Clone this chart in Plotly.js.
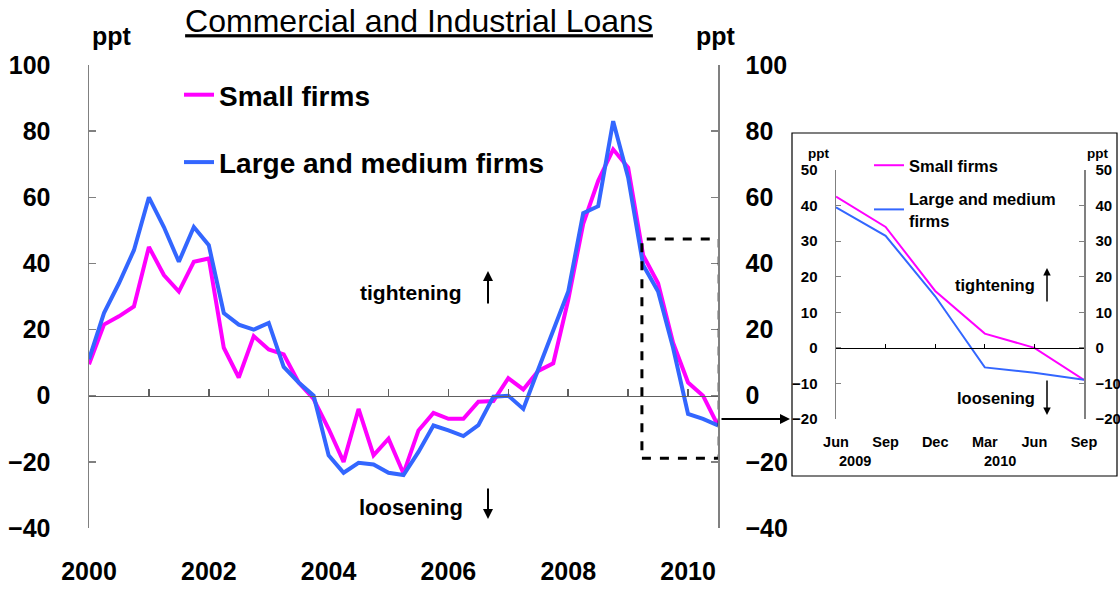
<!DOCTYPE html>
<html>
<head>
<meta charset="utf-8">
<script src="https://cdn.plot.ly/plotly-3.0.1.min.js"></script>
<style>html,body{margin:0;padding:0;background:#fff;}#chart{width:1120px;height:590px;}</style>
</head>
<body>
<div id="chart"></div>
<script>
// ---- Data ----
const quarters = [2000, 2000.25, 2000.5, 2000.75, 2001, 2001.25, 2001.5, 2001.75,
  2002, 2002.25, 2002.5, 2002.75, 2003, 2003.25, 2003.5, 2003.75,
  2004, 2004.25, 2004.5, 2004.75, 2005, 2005.25, 2005.5, 2005.75,
  2006, 2006.25, 2006.5, 2006.75, 2007, 2007.25, 2007.5, 2007.75,
  2008, 2008.25, 2008.5, 2008.75, 2009, 2009.25, 2009.5, 2009.75,
  2010, 2010.25, 2010.5];
const smallFirms = [9.5, 21.5, 24, 27, 45, 36.5, 31.5, 40.5, 41.5, 14.5, 5.5, 18, 14, 12.5, 4, -1,
  -10, -20, -4, -18, -13, -23.5, -10.5, -5.2, -7, -7, -1.8, -1.6, 5.3, 1.9, 7.5, 9.8,
  29, 52, 65, 74.5, 69, 42.5, 34, 16, 4, 0, -9];
const largeMediumFirms = [11, 25, 34, 44, 60, 51, 40.5, 51, 45.5, 25, 21.5, 20, 22, 8.7, 4, 0,
  -18, -23.3, -20.3, -20.8, -23.3, -24, -17, -9, -10.5, -12.2, -8.9, -0.3, 0, -4, 8, 20,
  31.5, 55.2, 57.3, 83, 66, 39.5, 31.5, 14.5, -5.5, -7, -9];
const yearTickVals = [2000, 2002, 2004, 2006, 2008, 2010];
const yearTickText = ['2000', '2002', '2004', '2006', '2008', '2010'];

const insetX = [0, 1, 2, 3, 4, 5];
const insetMonths = ['Jun', 'Sep', 'Dec', 'Mar', 'Jun', 'Sep'];
const insetSmall = [42.5, 34, 16, 4, 0, -9];
const insetLarge = [39.5, 31.5, 14.5, -5.5, -7, -9];
const insetYears = [{x: 0.38, text: '2009'}, {x: 3.3, text: '2010'}];

// highlighted window (Jun 2009 - Sep 2010) drawn as dashed box in main chart
const boxX = [2009.23, 2010.52];
const boxY = [-18.9, 47.4];

// ---- Layout helpers ----
const W = 1120, H = 590;
const px = x => x / W;
const py = y => 1 - y / H;

const MAGENTA = '#ff00ff';
const BLUE = '#3366ff';
const FONT = 'Arial, "Liberation Sans", Helvetica, sans-serif';
const AXGREY = '#808080';

const mainY = [-40, 100];
const mainYDom = [py(528), py(65)];
const zeroFrac = mainYDom[0] + (0 - mainY[0]) / (mainY[1] - mainY[0]) * (mainYDom[1] - mainYDom[0]);

const insY = [-20, 50];
const insYDom = [py(419), py(170)];
const insZeroFrac = insYDom[0] + (0 - insY[0]) / (insY[1] - insY[0]) * (insYDom[1] - insYDom[0]);

const traces = [
  {x: quarters, y: smallFirms, type: 'scatter', mode: 'lines', name: 'Small firms',
   line: {color: MAGENTA, width: 4}, xaxis: 'x', yaxis: 'y', legend: 'legend', legendgroup: 'a'},
  {x: quarters, y: largeMediumFirms, type: 'scatter', mode: 'lines', name: 'Large and medium firms',
   line: {color: BLUE, width: 4}, xaxis: 'x', yaxis: 'y', legend: 'legend', legendgroup: 'b'},
  {x: [], y: [], type: 'scatter', xaxis: 'x3', yaxis: 'y', showlegend: false, hoverinfo: 'skip'},
  {x: [], y: [], type: 'scatter', xaxis: 'x', yaxis: 'y2', showlegend: false, hoverinfo: 'skip'},
  {x: insetX, y: insetSmall, type: 'scatter', mode: 'lines', name: 'Small firms',
   line: {color: MAGENTA, width: 2}, xaxis: 'x4', yaxis: 'y4', legend: 'legend2', legendgroup: 'c'},
  {x: insetX, y: insetLarge, type: 'scatter', mode: 'lines', name: 'Large and medium<br>firms',
   line: {color: BLUE, width: 2}, xaxis: 'x4', yaxis: 'y4', legend: 'legend2', legendgroup: 'd'},
  {x: [], y: [], type: 'scatter', xaxis: 'x5', yaxis: 'y4', showlegend: false, hoverinfo: 'skip'},
  {x: [], y: [], type: 'scatter', xaxis: 'x4', yaxis: 'y5', showlegend: false, hoverinfo: 'skip'}
];

const boldMain = {family: FONT, size: 25, color: '#000', weight: 'bold'};
const boldInset = {family: FONT, size: 15, color: '#000', weight: 'bold'};

const mainYAxis = {
  domain: mainYDom, range: mainY, dtick: 20, tick0: 0, ticks: 'inside', ticklen: 7,
  tickwidth: 1.5, tickcolor: AXGREY, showline: true, linecolor: AXGREY, linewidth: 1.5,
  showgrid: false, zeroline: false, tickfont: boldMain, fixedrange: true
};
const insYAxis = {
  domain: insYDom, range: insY, dtick: 10, tick0: 0, ticks: 'inside', ticklen: 5,
  tickwidth: 1, tickcolor: AXGREY, showline: true, linecolor: AXGREY, linewidth: 1.5,
  showgrid: false, zeroline: false, tickfont: boldInset, fixedrange: true
};

const ann = (x, y, text, size, extra) => Object.assign({
  x: x, y: y, xref: 'paper', yref: 'paper', text: text, showarrow: false,
  font: {family: FONT, size: size, color: '#000', weight: 'bold'},
  xanchor: 'center', yanchor: 'middle'
}, extra || {});
const arrow = (x, y, ax, ay, w) => ({
  x: x, y: y, xref: 'paper', yref: 'paper', text: '', showarrow: true,
  ax: ax, ay: ay, axref: 'pixel', ayref: 'pixel', arrowhead: 2, arrowsize: 1,
  arrowwidth: w, arrowcolor: '#000', standoff: 0, startstandoff: 0
});

const layout = {
  width: W, height: H,
  margin: {l: 0, r: 0, t: 0, b: 0},
  paper_bgcolor: '#fff', plot_bgcolor: 'rgba(0,0,0,0)',
  title: {
    text: '<u>Commercial and Industrial Loans</u>',
    font: {family: FONT, size: 32, color: '#000'},
    x: px(419), xref: 'paper', xanchor: 'center',
    y: py(21), yref: 'container', yanchor: 'middle'
  },
  xaxis: {
    domain: [px(89), px(718)], range: [2000, 2010.5], anchor: 'y',
    tickmode: 'array', tickvals: yearTickVals, ticktext: yearTickText,
    ticks: '', showline: false, showgrid: false, zeroline: false,
    tickfont: boldMain, ticklabelstandoff: 26, fixedrange: true
  },
  xaxis3: {
    overlaying: 'x', anchor: 'free', position: zeroFrac, range: [2000, 2010.5],
    tick0: 2000, dtick: 1, ticks: 'inside', ticklen: 7, tickwidth: 1.5, tickcolor: '#606060',
    showline: true, linecolor: '#606060', linewidth: 1.5, showticklabels: false,
    showgrid: false, zeroline: false, fixedrange: true
  },
  yaxis: Object.assign({}, mainYAxis, {anchor: 'x', side: 'left', ticklabelstandoff: 32}),
  yaxis2: Object.assign({}, mainYAxis, {anchor: 'x', overlaying: 'y', side: 'right', ticklabelstandoff: 21}),
  xaxis4: {
    domain: [px(836), px(1084)], range: [0, 5], anchor: 'y4',
    tickmode: 'array', tickvals: insetX, ticktext: insetMonths,
    ticks: '', showline: false, showgrid: false, zeroline: false,
    tickfont: Object.assign({}, boldInset, {size: 14.5}), ticklabelstandoff: 12, fixedrange: true
  },
  xaxis5: {
    overlaying: 'x4', anchor: 'free', position: insZeroFrac, range: [0, 5],
    tickmode: 'array', tickvals: insetX, ticks: 'inside', ticklen: 4, tickwidth: 1,
    tickcolor: '#000', showline: true, linecolor: '#000', linewidth: 1,
    showticklabels: false, showgrid: false, zeroline: false, fixedrange: true
  },
  yaxis4: Object.assign({}, insYAxis, {anchor: 'x4', side: 'left', ticklabelstandoff: 14}),
  yaxis5: Object.assign({}, insYAxis, {anchor: 'x4', overlaying: 'y4', side: 'right', ticklabelstandoff: 7}),
  showlegend: true,
  legend: {
    x: px(179), y: py(70), xanchor: 'left', yanchor: 'top', bgcolor: 'rgba(0,0,0,0)',
    font: {family: FONT, size: 28, color: '#000', weight: 'bold'},
    tracegroupgap: 28, traceorder: 'grouped'
  },
  legend2: {
    x: px(869), y: py(148), xanchor: 'left', yanchor: 'top', bgcolor: 'rgba(0,0,0,0)',
    font: {family: FONT, size: 16.5, color: '#000', weight: 'bold'},
    tracegroupgap: 9, traceorder: 'grouped'
  },
  shapes: [
    {type: 'rect', xref: 'x', yref: 'y', x0: boxX[0], x1: boxX[1], y0: boxY[0], y1: boxY[1],
     line: {color: '#000', width: 3, dash: 'dash'}, fillcolor: 'rgba(0,0,0,0)'},
    {type: 'rect', xref: 'paper', yref: 'paper', x0: px(792), x1: px(1117), y0: py(476), y1: py(133),
     line: {color: '#000', width: 1.2}, fillcolor: 'rgba(0,0,0,0)', layer: 'below'}
  ],
  annotations: [
    ann(px(112), py(36), 'ppt', 25),
    ann(px(716), py(36), 'ppt', 25),
    ann(px(411), py(292), 'tightening', 21),
    arrow(px(488), py(271), 0, 34, 2),
    ann(px(411), py(507), 'loosening', 22),
    arrow(px(488), py(519), 0, -32, 2),
    arrow(px(790), py(419), -70, 0, 2),
    ann(px(818), py(153), 'ppt', 13.5),
    ann(px(1097), py(153), 'ppt', 13.5),
    ann(px(995), py(285), 'tightening', 16.5),
    arrow(px(1047), py(268), 0, 35, 1.5),
    ann(px(996), py(398), 'loosening', 16.5),
    arrow(px(1047), py(415), 0, -36, 1.5)
  ].concat(insetYears.map(d => ({
    x: d.x, y: py(461), xref: 'x4', yref: 'paper', text: d.text, showarrow: false,
    font: {family: FONT, size: 14.5, color: '#000', weight: 'bold'}, xanchor: 'center', yanchor: 'middle'
  })))
};

Plotly.newPlot('chart', traces, layout, {displayModeBar: false, staticPlot: true});
</script>
</body>
</html>
